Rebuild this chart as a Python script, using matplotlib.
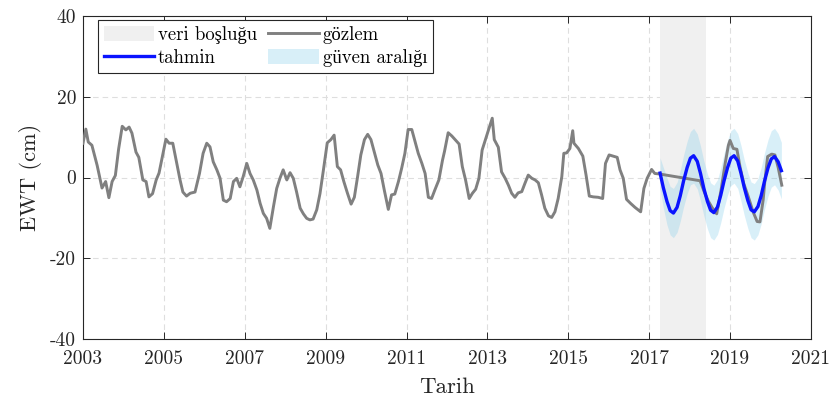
import matplotlib
matplotlib.use('Agg')
import matplotlib.pyplot as plt
from matplotlib.patches import Patch
from matplotlib.lines import Line2D
import numpy as np

plt.rcParams['font.family'] = ['cmr10', 'Liberation Serif']
plt.rcParams['axes.unicode_minus'] = False
plt.rcParams['axes.formatter.use_mathtext'] = False

# ---------------- data ----------------
obs_year = [
    2003.00, 2003.07, 2003.13, 2003.22, 2003.35, 2003.47, 2003.56, 2003.64, 2003.72, 2003.80,
    2003.88, 2003.97, 2004.06, 2004.14, 2004.21, 2004.31, 2004.38, 2004.48, 2004.56, 2004.63,
    2004.72, 2004.81, 2004.88, 2004.97, 2005.05, 2005.13, 2005.22, 2005.32, 2005.40, 2005.47,
    2005.56, 2005.65, 2005.77, 2005.88, 2005.97, 2006.06, 2006.14, 2006.22, 2006.31, 2006.39,
    2006.47, 2006.55, 2006.64, 2006.72, 2006.80, 2006.88, 2006.96, 2007.05, 2007.13, 2007.21,
    2007.30, 2007.38, 2007.46, 2007.54, 2007.62, 2007.71, 2007.79, 2007.87, 2007.95, 2008.04,
    2008.12, 2008.20, 2008.28, 2008.37, 2008.45, 2008.53, 2008.61, 2008.69, 2008.78, 2008.86,
    2008.94, 2009.04, 2009.13, 2009.21, 2009.29, 2009.37, 2009.45, 2009.54, 2009.63, 2009.71,
    2009.79, 2009.87, 2009.96, 2010.04, 2010.12, 2010.20, 2010.29, 2010.37, 2010.45, 2010.55,
    2010.63, 2010.71, 2010.80, 2010.88, 2010.96, 2011.04, 2011.13, 2011.21, 2011.29, 2011.38,
    2011.46, 2011.54, 2011.62, 2011.70, 2011.80, 2011.89, 2011.94, 2012.03, 2012.12, 2012.20,
    2012.30, 2012.38, 2012.46, 2012.55, 2012.63, 2012.71, 2012.79, 2012.87, 2012.96, 2013.04,
    2013.12, 2013.17, 2013.27, 2013.35, 2013.44, 2013.52, 2013.60, 2013.68, 2013.76, 2013.85,
    2013.93, 2014.01, 2014.10, 2014.18, 2014.26, 2014.34, 2014.42, 2014.51, 2014.59, 2014.67,
    2014.75, 2014.84, 2014.89, 2014.96, 2015.04, 2015.11, 2015.14, 2015.25, 2015.36, 2015.44,
    2015.52, 2015.62, 2015.74, 2015.85, 2015.92, 2016.01, 2016.11, 2016.21, 2016.28, 2016.36,
    2016.44, 2016.54, 2016.65, 2016.79, 2016.87, 2016.95, 2017.06, 2017.14, 2017.24,
    2018.26, 2018.36, 2018.46, 2018.56, 2018.67, 2018.78, 2018.88, 2018.96, 2019.00, 2019.08,
    2019.17, 2019.25, 2019.34, 2019.45, 2019.57, 2019.67, 2019.74, 2019.82, 2019.86, 2019.93,
    2020.03, 2020.11, 2020.19, 2020.28,
]
obs_value = [
    8.5, 12.0, 8.8, 8.0, 3.0, -2.6, -1.0, -5.0, -1.0, 0.5,
    7.0, 12.7, 11.8, 12.5, 11.0, 6.3, 5.0, -0.6, -1.0, -4.8,
    -4.0, -0.6, 1.1, 5.5, 9.5, 8.5, 8.5, 3.5, -0.6, -3.6,
    -4.6, -3.9, -3.6, 1.0, 6.0, 8.5, 7.6, 3.9, 1.9, -0.2,
    -5.6, -6.0, -5.2, -1.0, -0.2, -2.3, 0.2, 3.5, 1.0, -0.6,
    -3.1, -6.4, -8.9, -10.1, -12.6, -7.2, -2.7, -0.2, 1.9, -0.6,
    1.2, -0.2, -3.5, -7.6, -9.0, -10.1, -10.5, -10.3, -8.0, -4.0,
    1.5, 8.6, 9.4, 10.5, 2.7, 1.9, -1.0, -3.9, -6.6, -4.9,
    0.2, 5.6, 9.4, 10.7, 9.4, 6.4, 3.1, 1.0, -3.1, -7.9,
    -4.3, -4.1, -1.0, 2.3, 6.0, 11.9, 11.9, 8.9, 6.0, 3.5,
    1.0, -4.9, -5.2, -3.1, -0.6, 4.3, 6.5, 11.1, 10.3, 9.4,
    8.3, 2.7, -0.6, -5.2, -3.9, -2.9, -0.2, 6.8, 9.7, 12.2,
    14.7, 9.4, 7.5, 1.4, -0.2, -1.9, -3.9, -4.9, -3.8, -3.5,
    -1.4, 0.6, -0.2, -0.6, -1.3, -4.3, -7.6, -9.5, -9.9, -8.5,
    -5.2, 0.2, 6.0, 6.1, 7.2, 11.6, 8.5, 7.2, 5.3, 0.6,
    -4.6, -4.8, -4.9, -5.2, 3.5, 5.6, 5.3, 5.0, 1.9, -0.2,
    -5.4, -6.4, -7.4, -8.5, -2.7, -0.2, 2.0, 1.0, 0.9,
    -0.8, -3.5, -5.8, -7.5, -9.0, -3.0, 3.5, 8.0, 9.2, 7.2,
    7.0, 2.5, -1.5, -4.7, -8.5, -10.9, -11.0, -5.5, -1.0, 5.2,
    5.8, 5.6, 2.5, -1.9,
]

pred_year = [
    2017.27, 2017.35, 2017.44, 2017.52, 2017.60, 2017.69, 2017.77, 2017.85, 2017.94, 2018.02,
    2018.10, 2018.19, 2018.27, 2018.35, 2018.44, 2018.52, 2018.60, 2018.69, 2018.77, 2018.85,
    2018.94, 2019.02, 2019.10, 2019.19, 2019.27, 2019.35, 2019.44, 2019.52, 2019.60, 2019.69,
    2019.77, 2019.85, 2019.94, 2020.02, 2020.10, 2020.19, 2020.27,
]
pred_value = [
    1.1, -2.5, -5.9, -8.2, -8.8, -7.4, -4.5, -0.9, 2.5, 4.8,
    5.4, 4.0, 1.0, -2.6, -5.9, -8.1, -8.7, -7.3, -4.4, -0.9,
    2.5, 4.8, 5.4, 4.1, 1.1, -2.4, -5.7, -8.0, -8.5, -7.2,
    -4.5, -1.0, 2.4, 4.6, 5.2, 3.9, 1.7,
]
pred_halfwidth = [
    3.8, 5.0, 5.8, 6.0, 6.1, 6.2, 6.3, 6.4, 6.5, 6.6,
    6.8, 6.8, 6.8, 6.8, 6.8, 6.8, 6.8, 6.8, 6.8, 6.8,
    6.8, 6.8, 6.8, 6.8, 6.9, 6.9, 6.9, 6.9, 7.0, 7.0,
    7.0, 7.0, 7.0, 7.0, 7.0, 7.0, 7.0,
]
gap_start, gap_end = 2017.27, 2018.40

x_ticks = [2003, 2005, 2007, 2009, 2011, 2013, 2015, 2017, 2019, 2021]
y_ticks = [-40, -20, 0, 20, 40]

labels = {
    'gap': 'veri boşluğu',
    'obs': 'gözlem',
    'pred': 'tahmin',
    'band': 'güven aralığı',
    'x': 'Tarih',
    'y': 'EWT (cm)',
}

# ---------------- styles ----------------
gap_color = '#f0f0f0'
band_color = (0.50, 0.80, 0.92)
band_alpha = 0.30
obs_color = '#808080'
pred_color = '#0a14ff'
axis_color = '#262626'

fig = plt.figure(figsize=(8.3, 4.03), dpi=100)
ax = fig.add_axes([0.1, 0.159, 0.877, 0.801])

ax.axvspan(gap_start, gap_end, color=gap_color, lw=0, zorder=1)

pv = np.array(pred_value)
hw = np.array(pred_halfwidth)
ax.fill_between(pred_year, pv - hw, pv + hw, color=band_color, alpha=band_alpha,
                lw=0, zorder=2)
ax.plot(obs_year, obs_value, color=obs_color, lw=2.1, zorder=3,
        solid_joinstyle='round')
ax.plot(pred_year, pred_value, color=pred_color, lw=2.4, zorder=4,
        solid_joinstyle='round')

ax.set_xlim(2003, 2021)
ax.set_ylim(-40, 40)
ax.set_xticks(x_ticks)
ax.set_yticks(y_ticks)
ax.set_xticklabels([str(t) for t in x_ticks])
ax.set_yticklabels([str(t) for t in y_ticks])

ax.set_axisbelow(True)
ax.grid(True, color='#dedede', lw=0.8, linestyle=(0, (5, 3.6)))
ax.tick_params(direction='in', top=True, right=True, length=5, width=0.7,
               labelsize=14, colors=axis_color)
ax.tick_params(axis='x', pad=8)
ax.tick_params(axis='y', pad=5)
for s in ax.spines.values():
    s.set_color(axis_color)
    s.set_linewidth(0.8)

ax.set_xlabel(labels['x'], fontsize=16.5, color=axis_color, labelpad=7)
ax.set_ylabel(labels['y'], fontsize=16, color=axis_color, labelpad=6)

handles = [
    Patch(facecolor=gap_color, edgecolor='none', label=labels['gap']),
    Line2D([], [], color=pred_color, lw=2.4, label=labels['pred']),
    Line2D([], [], color=obs_color, lw=2.1, label=labels['obs']),
    Patch(facecolor=band_color, alpha=band_alpha, edgecolor='none', label=labels['band']),
]
leg = ax.legend(handles=handles, ncol=2, loc='upper left',
                bbox_to_anchor=(0.0206, 0.9876), borderaxespad=0,
                fontsize=13.5, frameon=True, fancybox=False, framealpha=1,
                edgecolor=axis_color, handlelength=2.7, handleheight=0.9,
                handletextpad=0.2, columnspacing=0.6, labelspacing=0.25,
                borderpad=0.3)
leg.get_frame().set_linewidth(0.8)
leg.set_zorder(10)

fig.savefig('out.png', dpi=100)
